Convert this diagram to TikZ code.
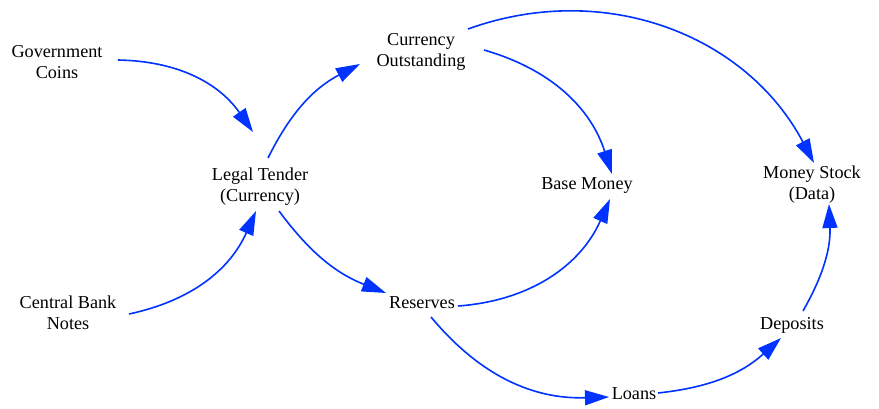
\documentclass[tikz,border=0pt]{standalone}
\usepackage{fontspec}
\setmainfont{Liberation Serif}
\usetikzlibrary{arrows.meta,calc}
\definecolor{linkblue}{RGB}{0,51,255}
\begin{document}
\begin{tikzpicture}[x=1pt,y=1pt,
  var/.style={align=center,inner sep=0pt,font=\fontsize{18.2}{21}\selectfont,text=black},
  link/.style={draw=linkblue,line width=1.6pt,-{Triangle[length=24pt,width=15pt]}}]
\useasboundingbox (0,0) rectangle (879,408);
\node[var] (gov) at (57,346) {Government\\Coins};
\node[var] (cbn) at (68,95) {Central Bank\\Notes};
\node[var] (lt) at (260,221) {Legal Tender\\(Currency)};
\node[var] (co) at (421,356) {Currency\\Outstanding};
\node[var] (bm) at (587,222) {Base Money};
\node[var] (ms) at (812,223) {Money Stock\\(Data)};
\node[var] (res) at (422,105) {Reserves};
\node[var] (dep) at (792,83) {Deposits};
\node[var] (loans) at (634,14) {Loans};
\draw[link] ($(gov)+(61,2)$) to[bend left=27] ($(lt)+(-7,55)$);
\draw[link] ($(cbn)+(61,-1)$) to[bend right=27] ($(lt)+(-4,-24)$);
\draw[link] ($(lt)+(8,29)$) to[bend left=18] ($(co)+(-61,-12)$);
\draw[link] ($(lt)+(19,-24)$) to[bend right=16] ($(res)+(-36,10)$);
\draw[link] ($(co)+(63,2)$) to[bend left=28] ($(bm)+(25,12)$);
\draw[link] ($(co)+(47,23)$) to[bend left=41] ($(ms)+(2,22)$);
\draw[link] ($(res)+(36,-3)$) to[bend right=31] ($(bm)+(23,-13)$);
\draw[link] ($(res)+(9,-14)$) to[bend right=26] ($(loans)+(-25,-3)$);
\draw[link] ($(loans)+(24,1)$) to[bend right=18] ($(dep)+(-11,-13)$);
\draw[link] ($(dep)+(11,14)$) to[bend right=16] ($(ms)+(17,-19)$);
\end{tikzpicture}
\end{document}
